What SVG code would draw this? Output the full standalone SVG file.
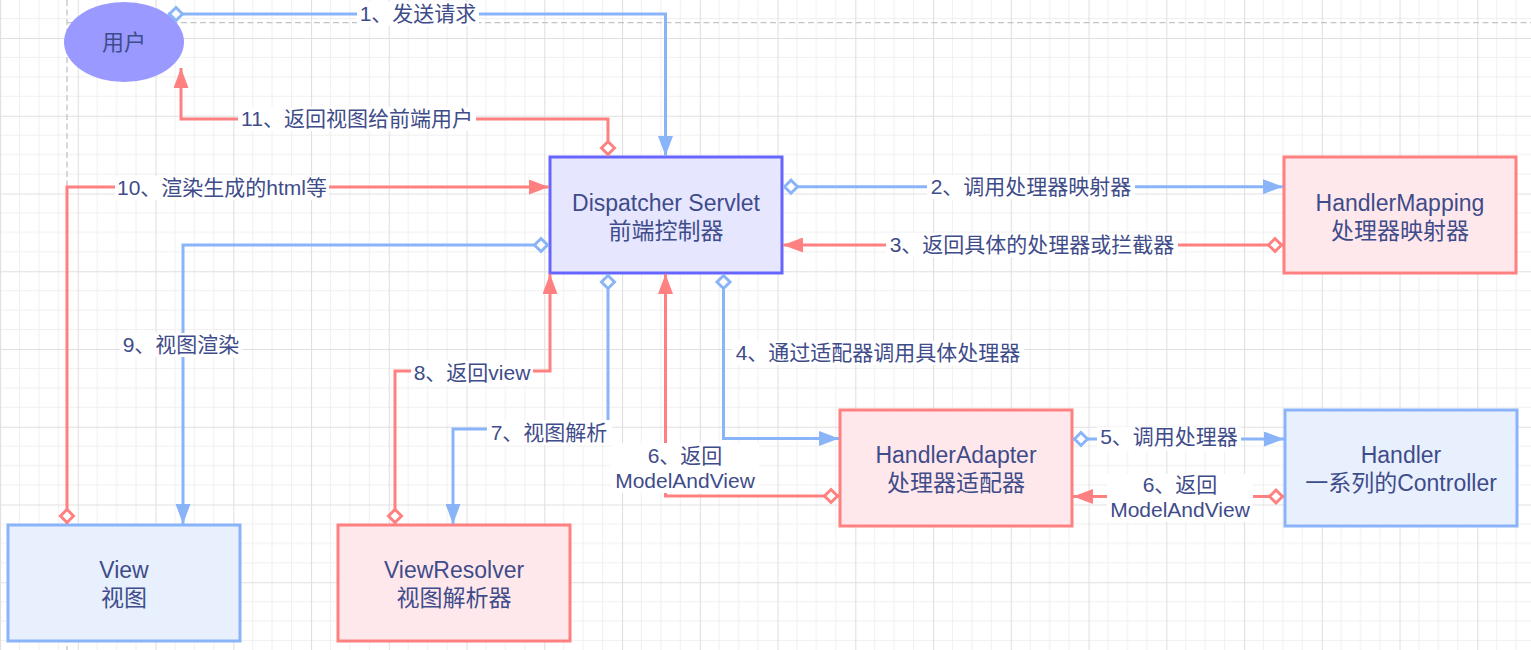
<svg xmlns="http://www.w3.org/2000/svg" width="1531" height="650" viewBox="0 0 1531 650">
<style>
text{font-family:"Liberation Sans","Noto Sans CJK SC",sans-serif;font-size:21px;fill:#3f4c8a;text-anchor:middle}
.mv{font-size:21px}
.nt{font-size:23px}
.nb{fill:#e8f0fe;stroke:#8ab4f8;stroke-width:3}
.nr{fill:#ffe8ec;stroke:#ff8080;stroke-width:3}
.nd{fill:#e6e6ff;stroke:#6666ff;stroke-width:3}
.cb{fill:none;stroke:#8ab4f8;stroke-width:3;marker-end:url(#arrB);marker-start:url(#dmB)}
.cr{fill:none;stroke:#ff8080;stroke-width:3;marker-end:url(#arrR);marker-start:url(#dmR)}
.lbg{fill:#ffffff}
</style>
<defs>
<pattern id="grid" x="0" y="38" width="77.75" height="77.75" patternUnits="userSpaceOnUse">
<path d="M19.44,0V77.75M38.875,0V77.75M58.31,0V77.75M0,19.44H77.75M0,38.875H77.75M0,58.31H77.75" stroke="#f0f0f0" stroke-width="1" fill="none"/>
<path d="M0.5,0V77.75M0,0.5H77.75" stroke="#e0e0e0" stroke-width="1.2" fill="none"/>
</pattern>
<marker id="arrB" viewBox="0 0 20 15" refX="20" refY="7.5" markerWidth="20" markerHeight="15" orient="auto" markerUnits="userSpaceOnUse"><path d="M0,0L20,7.5L0,15z" fill="#8ab4f8"/></marker>
<marker id="arrR" viewBox="0 0 20 15" refX="20" refY="7.5" markerWidth="20" markerHeight="15" orient="auto" markerUnits="userSpaceOnUse"><path d="M0,0L20,7.5L0,15z" fill="#ff8080"/></marker>
<marker id="dmB" viewBox="-2 -10 20 20" refX="0" refY="0" markerWidth="20" markerHeight="20" orient="auto" markerUnits="userSpaceOnUse"><path d="M1.5,0L8,-6.5L14.5,0L8,6.5z" fill="#ffffff" stroke="#8ab4f8" stroke-width="3"/></marker>
<marker id="dmR" viewBox="-2 -10 20 20" refX="0" refY="0" markerWidth="20" markerHeight="20" orient="auto" markerUnits="userSpaceOnUse"><path d="M1.5,0L8,-6.5L14.5,0L8,6.5z" fill="#ffffff" stroke="#ff8080" stroke-width="3"/></marker>
</defs>
<g id="background">
<rect x="0" y="0" width="1531" height="650" fill="#ffffff"/>
<rect x="0" y="0" width="1531" height="650" fill="url(#grid)"/>
<path d="M67,22.7H1531M67,0V650" stroke="#c4c4c4" stroke-width="1.3" stroke-dasharray="6 3.5" fill="none"/>
</g>
<g id="node-user">
<ellipse cx="124" cy="42" rx="60" ry="40" fill="#9999ff"/>
<text class="nt" x="124" y="50" style="font-size:22px">用户</text>
</g>
<g id="node-dispatcher">
<rect class="nd" x="550" y="157" width="232" height="116"/>
<text class="nt" x="666" y="211">Dispatcher Servlet</text>
<text class="nt" x="666" y="239">前端控制器</text>
</g>
<g id="node-handlermapping">
<rect class="nr" x="1284" y="157" width="232" height="116"/>
<text class="nt" x="1400" y="211">HandlerMapping</text>
<text class="nt" x="1400" y="239">处理器映射器</text>
</g>
<g id="node-handleradapter">
<rect class="nr" x="840" y="410" width="232" height="116"/>
<text class="nt" x="956" y="463">HandlerAdapter</text>
<text class="nt" x="956" y="491">处理器适配器</text>
</g>
<g id="node-handler">
<rect class="nb" x="1285" y="410" width="232" height="116"/>
<text class="nt" x="1401" y="463">Handler</text>
<text class="nt" x="1401" y="491">一系列的Controller</text>
</g>
<g id="node-view">
<rect class="nb" x="8" y="525" width="232" height="116"/>
<text class="nt" x="124" y="578">View</text>
<text class="nt" x="124" y="606">视图</text>
</g>
<g id="node-viewresolver">
<rect class="nr" x="338" y="525" width="232" height="116"/>
<text class="nt" x="454" y="578">ViewResolver</text>
<text class="nt" x="454" y="606">视图解析器</text>
</g>
<g id="connectors">
<path class="cb" d="M168,14H665.5V156"/>
<path class="cr" d="M608,156V119H181V68"/>
<path class="cb" d="M783,186.7H1283"/>
<path class="cr" d="M1283,245H783"/>
<path class="cr" d="M67,524V187H549"/>
<path class="cb" d="M549,245H183V524"/>
<path class="cr" d="M395,524V371H550V274"/>
<path class="cb" d="M608,274V429H453V524"/>
<path class="cr" d="M839,496H665.5V274"/>
<path class="cb" d="M723.5,274V438.5H839"/>
<path class="cb" d="M1073,439H1284"/>
<path class="cr" d="M1284,496.5H1073"/>
<rect class="lbg" x="357" y="2" width="122" height="24"/>
<text x="418" y="21">1、发送请求</text>
<rect class="lbg" x="238" y="107" width="238" height="24"/>
<text x="357" y="126">11、返回视图给前端用户</text>
<rect class="lbg" x="115" y="176" width="214" height="24"/>
<text x="222" y="195">10、渲染生成的html等</text>
<rect class="lbg" x="927" y="175" width="208" height="24"/>
<text x="1031" y="194">2、调用处理器映射器</text>
<rect class="lbg" x="886" y="233" width="292" height="24"/>
<text x="1032" y="252">3、返回具体的处理器或拦截器</text>
<rect class="lbg" x="120" y="333" width="122" height="24"/>
<text x="181" y="352">9、视图渲染</text>
<rect class="lbg" x="732" y="341" width="292" height="24"/>
<text x="878" y="360">4、通过适配器调用具体处理器</text>
<rect class="lbg" x="411" y="361" width="122" height="24"/>
<text x="472" y="380">8、返回view</text>
<rect class="lbg" x="487" y="420" width="125" height="25"/>
<text x="549" y="440">7、视图解析</text>
<rect class="lbg" x="611" y="443" width="148" height="50"/>
<text x="685" y="463">6、返回</text>
<text class="mv" x="685" y="488">ModelAndView</text>
<rect class="lbg" x="1097" y="427" width="144" height="24"/>
<text x="1169" y="444">5、调用处理器</text>
<rect class="lbg" x="1107" y="474" width="146" height="48"/>
<text x="1180" y="492">6、返回</text>
<text class="mv" x="1180" y="517">ModelAndView</text>
</g>
</svg>
